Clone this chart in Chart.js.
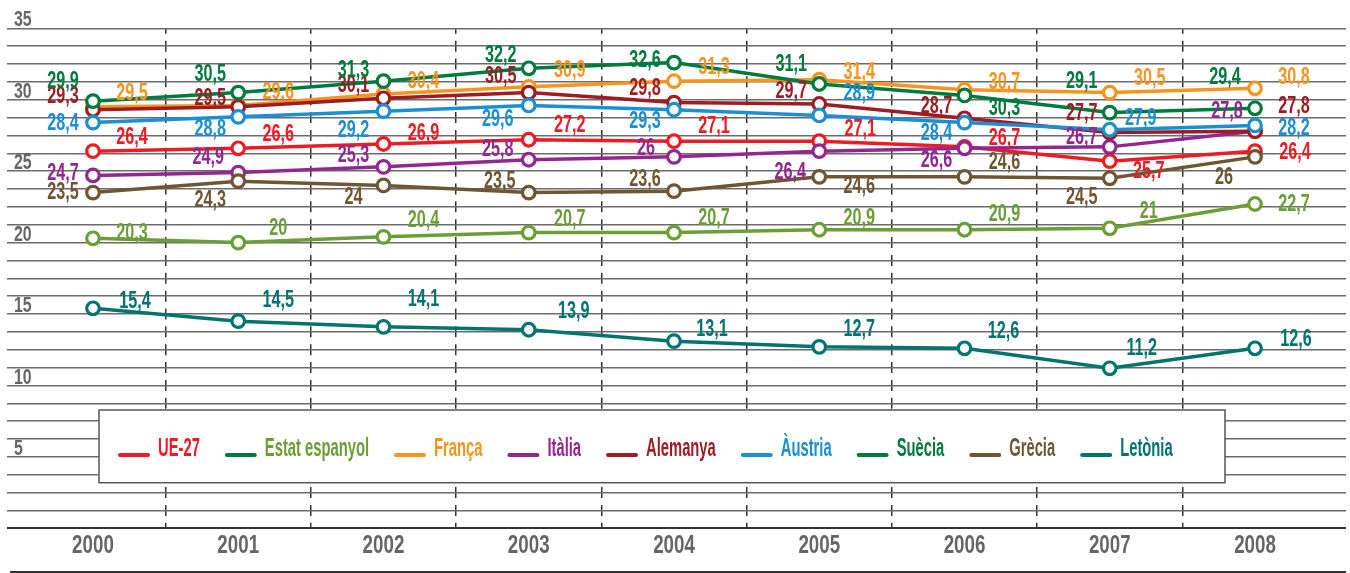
<!DOCTYPE html>
<html>
<head>
<meta charset="utf-8">
<script src="https://cdn.jsdelivr.net/npm/chart.js@4.4.1/dist/chart.umd.min.js"></script>
<style>
html,body{margin:0;padding:0;background:#fff;}
canvas{display:block;}
</style>
</head>
<body>
<canvas id="c" width="1350" height="573"></canvas>
<script>
// ---------- data ----------
const years = ['2000','2001','2002','2003','2004','2005','2006','2007','2008'];
const seriesNames = ['UE-27','Estat espanyol','França','Itàlia','Alemanya','Àustria','Suècia','Grècia','Letònia'];

const ue27          = [26.4, 26.6, 26.9, 27.2, 27.1, 27.1, 26.7, 25.7, 26.4];
const estatEspanyol = [20.3, 20,   20.4, 20.7, 20.7, 20.9, 20.9, 21,   22.7];
const franca        = [29.5, 29.6, 30.4, 30.9, 31.3, 31.4, 30.7, 30.5, 30.8];
const italia        = [24.7, 24.9, 25.3, 25.8, 26,   26.4, 26.6, 26.7, 27.8];
const alemanya      = [29.3, 29.5, 30.1, 30.5, 29.8, 29.7, 28.7, 27.7, 27.8];
const austria       = [28.4, 28.8, 29.2, 29.6, 29.3, 28.9, 28.4, 27.9, 28.2];
const suecia        = [29.9, 30.5, 31.3, 32.2, 32.6, 31.1, 30.3, 29.1, 29.4];
const grecia        = [23.5, 24.3, 24,   23.5, 23.6, 24.6, 24.6, 24.5, 26];
const letonia       = [15.4, 14.5, 14.1, 13.9, 13.1, 12.7, 12.6, 11.2, 12.6];

const seriesValues = [ue27, estatEspanyol, franca, italia, alemanya, austria, suecia, grecia, letonia];

// y tick values (gridline every 1.25, labels every 5)
const yTickValues = Array.from({length: 29}, (_, i) => i * 1.25);
// x tick values: years at integers, dashed separators at halves
const xTickValues = Array.from({length: 17}, (_, i) => i / 2);

// ---------- styles ----------
const seriesColors = ['#ed1c24','#6b9e37','#f7941d','#92278f','#9e1c22','#1a8fd4','#007a3d','#6e5632','#00746e'];
const legendSwatchColors = ['#ed1c24','#007a3d','#f7941d','#92278f','#9e1c22','#1a8fd4','#007a3d','#6e5632','#00746e'];

// label offsets (dx, dy) relative to each point
const labelOffsets = [
  [[39,-14],[40,-14],[40,-10],[41,-14],[40,-15],[41,-12],[40,-8],[39,10],[40,1]],
  [[39,-5],[40,-14],[40,-16],[41,-13],[40,-14],[40,-11],[40,-15],[39,-17],[39,1]],
  [[39,-13],[40,-13],[40,-12],[41,-16],[40,-14],[40,-7],[40,-7],[40,-14],[39,-11]],
  [[-30,-2],[-30,-15],[-30,-11],[-31,-10],[-28,-8],[-29,21],[-28,12],[-28,-9],[-28,-20]],
  [[-30,-13],[-28,-8],[-30,-13],[-28,-16],[-29,-14],[-28,-12],[-28,-12],[-28,-19],[39,-25]],
  [[-30,1],[-28,13],[-30,19],[-31,14],[-29,12],[40,-22],[-28,11],[31,-11],[39,3]],
  [[-30,-20],[-28,-18],[-30,-11],[-28,-13],[-29,-2],[-28,-19],[40,13],[-28,-31],[-30,-31]],
  [[-30,0],[-28,19],[-30,12],[-29,-11],[-29,-12],[40,10],[40,-14],[-28,19],[-31,21]],
  [[42,-7],[40,-21],[40,-27],[45,-18],[38,-12],[40,-17],[39,-17],[32,-20],[41,-9]]
];

// ---------- font detection ----------
const mctx = document.createElement('canvas').getContext('2d');
mctx.font = "bold 40px 'Liberation Sans Narrow', monospace";
const wA = mctx.measureText('abcdefghijklmnop').width;
mctx.font = "bold 40px monospace";
const wB = mctx.measureText('abcdefghijklmnop').width;
const hasNarrow = Math.abs(wA - wB) > 1;
const FAM = hasNarrow ? "'Liberation Sans Narrow', 'Liberation Sans', sans-serif" : "'Liberation Sans', Arial, sans-serif";
const K = hasNarrow ? 1 : 0.82;
const SX_TICKS = 0.88 * K, SX_LABELS = 0.86 * K, SX_LEGEND = 0.72 * K;

const fmt = v => String(v).replace('.', ',');

// ---------- plugins ----------
const textSquash = {
  id: 'textSquash',
  beforeInit(chart) {
    const ctx = chart.ctx;
    const orig = ctx.fillText.bind(ctx);
    ctx.__sx = 1;
    ctx.fillText = function (t, x, y, mw) {
      const sx = ctx.__sx || 1;
      if (sx === 1) return (mw == null) ? orig(t, x, y) : orig(t, x, y, mw);
      ctx.save();
      ctx.translate(x, y);
      ctx.scale(sx, 1);
      if (mw == null) orig(t, 0, 0); else orig(t, 0, 0, mw / sx);
      ctx.restore();
    };
  },
  beforeDraw(chart) { chart.ctx.__sx = SX_TICKS; },
  afterDraw(chart) { chart.ctx.__sx = 1; }
};

const valueLabels = {
  id: 'valueLabels',
  afterDatasetsDraw(chart) {
    const ctx = chart.ctx;
    ctx.save();
    ctx.__sx = SX_LABELS;
    ctx.font = 'bold 23px ' + FAM;
    ctx.textAlign = 'center';
    ctx.textBaseline = 'middle';
    chart.data.datasets.forEach((ds, di) => {
      const meta = chart.getDatasetMeta(di);
      meta.data.forEach((pt, i) => {
        const off = labelOffsets[di][i];
        ctx.fillStyle = seriesColors[di];
        ctx.fillText(fmt(seriesValues[di][i]), pt.x + off[0], pt.y + off[1]);
      });
    });
    ctx.restore();
    ctx.__sx = SX_TICKS;
  }
};

const legendBox = {
  id: 'legendBox',
  afterDraw(chart) {
    const ctx = chart.ctx;
    ctx.save();
    ctx.fillStyle = '#fff';
    ctx.fillRect(99, 410, 1126, 72.7);
    ctx.strokeStyle = '#555';
    ctx.lineWidth = 1.5;
    ctx.strokeRect(99, 410, 1126, 72.7);
    ctx.font = 'bold 25px ' + FAM;
    ctx.__sx = SX_LEGEND;
    ctx.textAlign = 'left';
    ctx.textBaseline = 'middle';
    let x = 118;
    seriesNames.forEach((name, i) => {
      ctx.strokeStyle = legendSwatchColors[i];
      ctx.lineWidth = 4;
      ctx.lineCap = 'round';
      ctx.beginPath();
      ctx.moveTo(x + 2, 455);
      ctx.lineTo(x + 30, 455);
      ctx.stroke();
      ctx.fillStyle = seriesColors[i];
      ctx.fillText(name, x + 40, 449.5);
      x += 40 + ctx.measureText(name).width * SX_LEGEND + 25;
    });
    // bottom rule under the year labels
    ctx.strokeStyle = '#333';
    ctx.lineWidth = 2;
    ctx.lineCap = 'butt';
    ctx.beginPath();
    ctx.moveTo(10, 572);
    ctx.lineTo(1346, 572);
    ctx.stroke();
    ctx.restore();
    ctx.__sx = 1;
  }
};

// ---------- chart ----------
new Chart(document.getElementById('c'), {
  type: 'line',
  data: {
    datasets: seriesValues.map((vals, i) => ({
      label: seriesNames[i],
      data: vals.map((v, j) => ({x: j, y: v})),
      borderColor: seriesColors[i],
      backgroundColor: '#fff',
      pointBackgroundColor: '#fff',
      pointBorderColor: seriesColors[i],
      pointRadius: 6.3,
      pointBorderWidth: 3.2,
      borderWidth: 3.5,
      tension: 0,
      fill: false,
      clip: false,
      order: seriesValues.length - i
    }))
  },
  options: {
    responsive: false,
    animation: false,
    devicePixelRatio: 1,
    events: [],
    layout: {autoPadding: false, padding: {left: 7, right: 4, top: 28.3, bottom: 0}},
    plugins: {legend: {display: false}, tooltip: {enabled: false}},
    scales: {
      x: {
        type: 'linear',
        min: -0.592,
        max: 8.6265,
        afterFit(ax) { ax.height = 44.7; ax.paddingLeft = 0; ax.paddingRight = 0; },
        afterBuildTicks(ax) { ax.ticks = xTickValues.map(v => ({value: v})); },
        ticks: {
          autoSkip: false, maxRotation: 0, minRotation: 0, padding: 2,
          color: '#666',
          font: {family: FAM, weight: 'bold', size: 26, lineHeight: 1.2},
          callback: v => Number.isInteger(v) ? years[v] : ''
        },
        grid: {
          drawTicks: false,
          lineWidth: 1.5,
          color: c => (c.tick && !Number.isInteger(c.tick.value)) ? '#333' : 'rgba(0,0,0,0)'
        },
        border: {display: false, dash: [11, 6.857], dashOffset: 5.5}
      },
      y: {
        min: 0,
        max: 35,
        afterFit(ax) { ax.width = 0; ax.paddingTop = 0; ax.paddingBottom = 0; },
        afterBuildTicks(ax) { ax.ticks = yTickValues.map(v => ({value: v})); },
        ticks: {
          autoSkip: false,
          mirror: true, padding: 7, labelOffset: -8,
          color: '#666',
          font: {family: FAM, weight: 'bold', size: 22, lineHeight: 1.2},
          callback: v => (v > 0 && v % 5 === 0) ? String(v) : ''
        },
        grid: {
          drawTicks: false,
          color: c => (c.tick && c.tick.value === 0) ? '#333' : '#6b6b6b',
          lineWidth: c => (c.tick && c.tick.value === 0) ? 2 : 1.5
        },
        border: {display: false}
      }
    }
  },
  plugins: [textSquash, valueLabels, legendBox]
});
</script>
</body>
</html>
